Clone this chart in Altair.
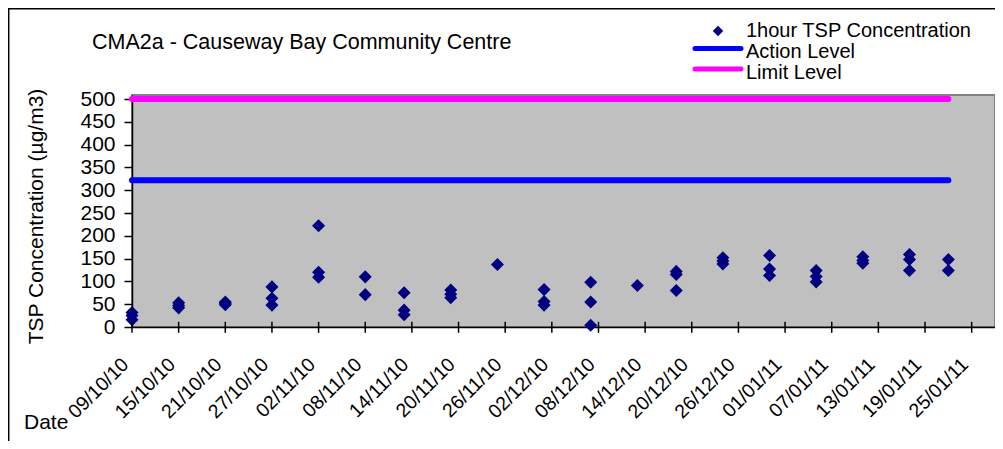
import altair as alt
import pandas as pd

# ---- data ----
dates = ["2010-10-09", "2010-10-15", "2010-10-21", "2010-10-27", "2010-11-02",
         "2010-11-08", "2010-11-13", "2010-11-19", "2010-11-25", "2010-12-01",
         "2010-12-07", "2010-12-13", "2010-12-18", "2010-12-24", "2010-12-30",
         "2011-01-05", "2011-01-11", "2011-01-17", "2011-01-22"]
tsp_values = [[32, 25, 16], [53, 47, 42], [55, 52, 49], [88, 63, 48], [222, 120, 109],
              [110, 71], [75, 37, 27], [81, 72, 64], [137], [82, 56, 48],
              [98, 55, 4], [91], [122, 115, 80], [152, 145, 138], [157, 127, 113],
              [124, 111, 99], [154, 146, 140], [159, 148, 124], [148, 124]]
action_level = 322
limit_level = 500
tick_dates = ["2010-10-09", "2010-10-15", "2010-10-21", "2010-10-27", "2010-11-02",
              "2010-11-08", "2010-11-14", "2010-11-20", "2010-11-26", "2010-12-02",
              "2010-12-08", "2010-12-14", "2010-12-20", "2010-12-26", "2011-01-01",
              "2011-01-07", "2011-01-13", "2011-01-19", "2011-01-25"]
x_domain = ["2010-10-09", "2011-01-28"]
y_ticks = [0, 50, 100, 150, 200, 250, 300, 350, 400, 450, 500]
title_text = "CMA2a - Causeway Bay Community Centre"
series_names = ["1hour TSP Concentration", "Action Level", "Limit Level"]

FONT = "Liberation Sans"


def dt(s):
    y, m, d = s.split("-")
    return alt.DateTime(year=int(y), month=int(m), date=int(d), utc=True)


pts = pd.DataFrame([{"date": d, "tsp": v} for d, vals in zip(dates, tsp_values) for v in vals])
lines = pd.DataFrame({
    "date": [dates[0], dates[-1], dates[0], dates[-1]],
    "level": [action_level, action_level, limit_level, limit_level],
    "series": ["Action Level", "Action Level", "Limit Level", "Limit Level"],
})
ticks_df = pd.DataFrame({"date": tick_dates})

xscale = alt.Scale(type="utc", domain=[dt(x_domain[0]), dt(x_domain[1])], nice=False)
yscale = alt.Scale(domain=[0, 509], nice=False, zero=True)
tick_vals = [dt(t) for t in tick_dates]

x_axis = alt.Axis(values=tick_vals, labelExpr="utcFormat(datum.value, '%d/%m/%y')",
                  labelAngle=-45, labelAlign="right", labelBaseline="middle",
                  labelFontSize=19.5, labelPadding=34, labelOffset=-7, labelColor="black",
                  labelFont=FONT, labelOverlap=False, ticks=False,
                  domainColor="black", domainWidth=1.5, grid=False, title=None)
y_axis = alt.Axis(values=y_ticks, labelFontSize=21, labelFont=FONT, labelColor="black",
                  labelPadding=9, tickSize=8, tickColor="black", tickWidth=1.5,
                  domainColor="black", domainWidth=1.5, grid=False,
                  title="TSP Concentration (µg/m3)", titleFont=FONT, titleFontSize=21,
                  titleFontWeight="normal", titleColor="black", titleAngle=270,
                  titleX=-90, titleY=121, titleAlign="center", titleBaseline="alphabetic")

level_lines = alt.Chart(lines).mark_line(strokeWidth=6, strokeCap="round").encode(
    x=alt.X("date:T", scale=xscale, axis=x_axis),
    y=alt.Y("level:Q", scale=yscale, axis=y_axis),
    color=alt.Color("series:N", scale=alt.Scale(domain=series_names[1:], range=["#0000FF", "#FF00FF"]),
                    legend=None),
)

points = alt.Chart(pts).mark_point(shape="diamond", filled=True, color="#000080",
                                   size=170, opacity=1).encode(
    x=alt.X("date:T", scale=xscale, axis=x_axis),
    y=alt.Y("tsp:Q", scale=yscale, axis=y_axis),
)

# crossing tick marks on the date axis
x_ticks = alt.Chart(ticks_df).mark_tick(orient="vertical", size=11, thickness=1.5,
                                        color="black", opacity=1).encode(
    x=alt.X("date:T", scale=xscale, axis=x_axis),
    y=alt.value(232.3),
)


def text_layer(txt, x, y, size=21, align="left"):
    return alt.Chart(pd.DataFrame({"t": [txt]})).mark_text(
        font=FONT, fontSize=size, align=align, baseline="alphabetic", color="black"
    ).encode(x=alt.value(x), y=alt.value(y), text="t:N")


title = text_layer(title_text, -40, -46, size=21.5)
date_label = text_layer("Date", -108, 334)
leg_t1 = text_layer(series_names[0], 614, -58, size=20)
leg_t2 = text_layer(series_names[1], 614, -37, size=20)
leg_t3 = text_layer(series_names[2], 614, -16.5, size=20)
leg_pt = alt.Chart(pd.DataFrame({"s": [series_names[0]]})).mark_point(
    shape="diamond", filled=True, color="#000080", size=110, opacity=1
).encode(x=alt.value(586), y=alt.value(-64))
leg_l1 = alt.Chart(pd.DataFrame({"s": [series_names[1]]})).mark_rule(
    color="#0000FF", strokeWidth=5, strokeCap="round"
).encode(x=alt.value(563), x2=alt.value(609), y=alt.value(-46.5))
leg_l2 = alt.Chart(pd.DataFrame({"s": [series_names[2]]})).mark_rule(
    color="#FF00FF", strokeWidth=5, strokeCap="round"
).encode(x=alt.value(563), x2=alt.value(609), y=alt.value(-26))
border_left = alt.Chart(pd.DataFrame({"s": ["b"]})).mark_rule(color="black", strokeWidth=1.5).encode(
    x=alt.value(-123.3), y=alt.value(-87), y2=alt.value(346))
border_top = alt.Chart(pd.DataFrame({"s": ["b"]})).mark_rule(color="black", strokeWidth=1.5).encode(
    x=alt.value(-124), x2=alt.value(863), y=alt.value(-86.3))

chart = alt.layer(
    level_lines, points, x_ticks, title, date_label, leg_t1, leg_t2, leg_t3, leg_pt,
    leg_l1, leg_l2, border_left, border_top
).properties(
    width=863, height=232,
    autosize=alt.AutoSizeParams(type="none"),
    padding={"left": 124, "top": 87, "right": 0, "bottom": 114},
    background="white",
).configure_view(fill="#C0C0C0", stroke="#808080", strokeWidth=2)

chart.save("out.html", embed_options={"renderer": "svg", "actions": False})
